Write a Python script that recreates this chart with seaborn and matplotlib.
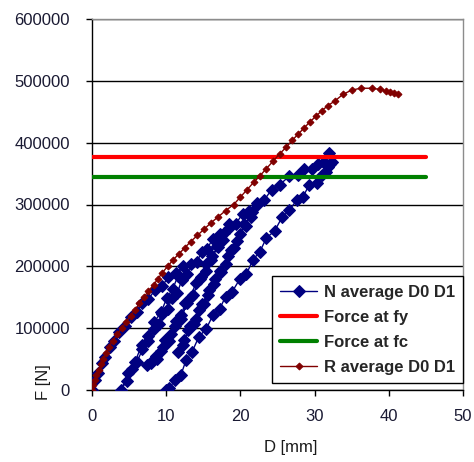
import matplotlib
matplotlib.use("Agg")
import matplotlib.pyplot as plt
from matplotlib.ticker import MultipleLocator, FuncFormatter
import seaborn as sns
import numpy as np

# N average D0 D1 : load cycles (D [mm], F [N])
n_d_load1 = [0, 0.4, 0.8, 1.3, 1.8, 2.4, 3.0, 3.7, 4.4, 5.2, 6.0, 6.8, 7.6, 8.5, 9.4, 10.3, 11.3, 12.3]
n_f_load1 = [0, 16000, 27000, 44000, 54000, 70000, 79000, 94000, 103000, 118000, 126000, 140000, 147000,
             162000, 168000, 182000, 189000, 200000]
n_d_unl1 = [11.6, 10.9, 10.1, 9.3, 8.4, 7.6, 6.7, 5.8, 4.9, 3.9]
n_f_unl1 = [185000, 164000, 149000, 126000, 110000, 88000, 72000, 46000, 27000, 0]
n_d_load2 = [4.7, 5.4, 6.1, 6.8, 7.6, 8.4, 9.0, 9.5, 10.2, 10.8, 11.5, 12.1, 12.8, 13.4, 14.1, 14.8,
             15.5, 16.3, 17.2, 18.5]
n_f_load2 = [15000, 34000, 46000, 66000, 80000, 99000, 106000, 123000, 131000, 149000, 157000, 178000,
             187000, 203000, 207000, 223000, 228000, 245000, 253000, 268000]
n_d_unl2 = [17.8, 17.0, 16.2, 15.3, 14.5, 13.6, 12.8, 12.0, 11.2, 10.4, 9.6, 8.8, 8.0, 7.4]
n_f_unl2 = [254000, 231000, 217000, 192000, 179000, 153000, 140000, 115000, 103000, 79000, 69000,
            50000, 44000, 40000]
n_d_load3 = [8.2, 8.6, 9.3, 9.9, 10.6, 11.3, 12.0, 12.6, 13.3, 14.0, 14.7, 15.4, 16.1, 16.9, 17.7, 18.5,
             19.4, 20.3, 21.2, 22.2]
n_f_load3 = [48000, 55000, 63000, 81000, 90000, 111000, 121000, 141000, 151000, 173000, 182000, 203000,
             211000, 233000, 242000, 262000, 269000, 285000, 289000, 302000]
n_d_unl3 = [21.5, 20.7, 19.9, 19.1, 18.3, 17.4, 16.6, 15.7, 14.8, 14.0, 13.2, 12.4, 11.6]
n_f_unl3 = [288000, 265000, 253000, 229000, 217000, 191000, 179000, 153000, 139000, 115000, 103000,
            81000, 62000]
n_d_load4 = [12.2, 13.0, 13.7, 14.4, 15.1, 15.8, 16.5, 17.2, 18.0, 18.8, 19.6, 20.5, 21.4, 22.3, 23.2,
             24.2, 25.3, 26.6, 27.7, 28.6, 29.6, 30.5, 31.3, 32.0]
n_f_load4 = [72000, 97000, 107000, 129000, 139000, 161000, 171000, 193000, 204000, 227000, 241000,
             268000, 279000, 300000, 307000, 324000, 332000, 346000, 348000, 357000, 357000, 365000,
             368000, 383000]
n_d_unl4 = [32.3, 31.8, 32.1, 31.5, 31.0, 30.3, 29.3, 28.4, 27.6, 26.6, 25.6, 24.6, 23.5, 22.6, 21.7,
            20.8, 19.9, 18.9, 18.0, 17.2, 16.3, 15.4, 14.4, 13.5, 12.7, 12.0, 11.2, 10.4, 10.0]
n_f_unl4 = [368000, 360000, 366000, 352000, 348000, 335000, 332000, 312000, 307000, 291000, 279000,
            257000, 246000, 223000, 211000, 187000, 179000, 159000, 151000, 131000, 121000, 99000,
            86000, 62000, 49000, 25000, 16000, 3000, 0]

# R average D0 D1
r_d = [0, 0.2, 0.4, 0.6, 0.9, 1.2, 1.5, 1.9, 2.3, 2.8, 3.4, 4.0, 4.6, 5.2, 5.8, 6.4, 7.0, 7.6, 8.3,
       8.9, 9.5, 10.2, 10.9, 11.7, 12.5, 13.3, 14.2, 15.1, 16.0, 17.0, 18.0, 19.1, 20.0, 20.9, 21.8,
       22.6, 23.5, 24.4, 25.3, 26.2, 27.0, 27.8, 28.6, 29.4, 30.2, 31.0, 31.8, 32.8, 33.8, 35.0,
       36.2, 37.8, 38.8, 39.6, 40.2, 40.7, 41.2]
r_f = [0, 8000, 16000, 24000, 33000, 42000, 50000, 60000, 70000, 80000, 90000, 100000, 110000, 120000,
       130000, 140000, 150000, 160000, 170000, 180000, 190000, 200000, 210000, 220000, 230000, 240000,
       250000, 260000, 270000, 280000, 290000, 300000, 312000, 324000, 336000, 346000, 358000, 370000,
       382000, 393000, 404000, 414000, 424000, 434000, 443000, 452000, 460000, 468000, 478000, 485000,
       488000, 488000, 486000, 484000, 482000, 480000, 479000]

force_fy = 377000
force_fc = 344000
force_d = [0, 45]

n_d = n_d_load1 + n_d_unl1 + n_d_load2 + n_d_unl2 + n_d_load3 + n_d_unl3 + n_d_load4 + n_d_unl4
n_f = n_f_load1 + n_f_unl1 + n_f_load2 + n_f_unl2 + n_f_load3 + n_f_unl3 + n_f_load4 + n_f_unl4

sns.set_theme(style="white")
plt.rcParams['font.family'] = ['Liberation Sans', 'DejaVu Sans']

fig = plt.figure(figsize=(4.74, 4.62), dpi=100)
ax = fig.add_axes([92/474, 1-390/462, 371/474, 371/462])

navy = "#000080"
maroon = "#800000"

sns.lineplot(x=n_d, y=n_f, sort=False, estimator=None, color=navy, lw=1, marker='D', markersize=6,
             markeredgecolor=navy, label="N average D0 D1", ax=ax, zorder=3)
sns.lineplot(x=force_d, y=[force_fy]*2, color="#ff0000", lw=3, label="Force at fy", ax=ax, zorder=3)
sns.lineplot(x=force_d, y=[force_fc]*2, color="#008000", lw=3, label="Force at fc", ax=ax, zorder=3)
sns.lineplot(x=r_d, y=r_f, sort=False, estimator=None, color=maroon, lw=1, marker='D', markersize=3.5,
             markeredgecolor=maroon, label="R average D0 D1", ax=ax, zorder=4)

ax.set_xlim(0, 50)
ax.set_ylim(0, 600000)
ax.xaxis.set_major_locator(MultipleLocator(10))
ax.yaxis.set_major_locator(MultipleLocator(100000))
ax.yaxis.set_major_formatter(FuncFormatter(lambda v, p: "%d" % v))

ax.grid(axis='y', color='black', lw=1)
ax.set_axisbelow(True)
ax.yaxis.get_gridlines()[-1].set_visible(False)

for s in ['top', 'right']:
    ax.spines[s].set_color('#8c8c8c')
for s in ['left', 'bottom']:
    ax.spines[s].set_color('black')
for s in ax.spines.values():
    s.set_linewidth(1)

ax.tick_params(axis='both', bottom=True, left=True, direction='out', length=4, width=1,
               color='black', labelsize=12, labelcolor='#1a1a33')
ax.tick_params(axis='y', pad=12)
ax.tick_params(axis='x', pad=10)

ax.set_xlabel("D [mm]", fontsize=12, color='#1a1a1a')
ax.set_ylabel("F [N]", fontsize=12, color='#1a1a1a')
ax.xaxis.set_label_coords(0.536, -0.135)
ax.yaxis.set_label_coords(-0.11, 0.02)

leg = ax.legend(loc='lower right', bbox_to_anchor=(1.0, 0.019), borderaxespad=0, frameon=True,
                fancybox=False, edgecolor='black', framealpha=1, handlelength=2.2, handletextpad=0.4,
                borderpad=0.5, labelspacing=0.6, prop={'weight': 'bold', 'size': 12})
leg.get_frame().set_linewidth(1)

fig.savefig("out.png", dpi=100)
